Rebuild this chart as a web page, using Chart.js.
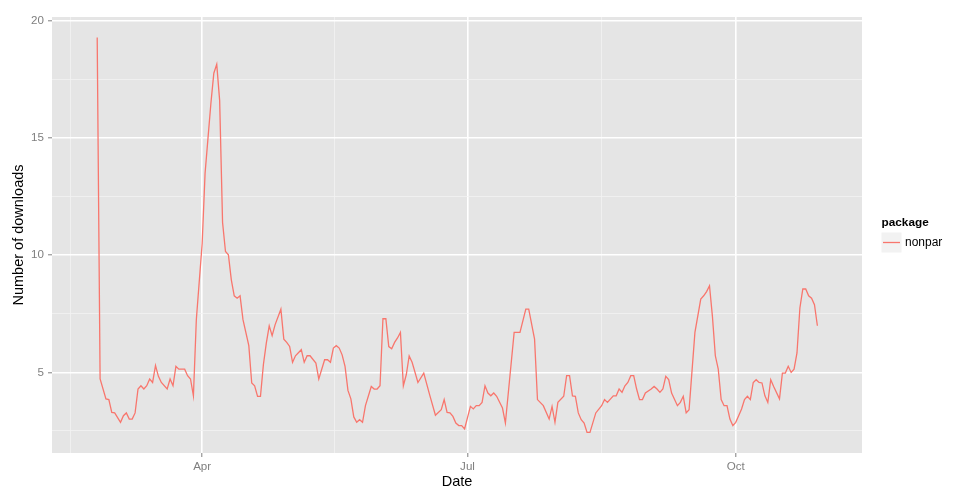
<!DOCTYPE html>
<html lang="en">
<head>
    <meta charset="UTF-8">
    <title>nonpar downloads</title>
    <script src="https://cdn.jsdelivr.net/npm/chart.js"></script>
    <style>
        html, body { margin: 0; padding: 0; background: #fff; }
        #wrap { width: 980px; height: 500px; }
    </style>
</head>
<body>
    <div id="wrap"><canvas id="downloadsChart" width="980" height="500"></canvas></div>

    <script>
        // day of year (Jan 1 = 0) of each reading, and the downloads on that day
        const days = [
            54, 55, 57, 58, 59, 60, 62, 63, 64, 65, 66, 67, 68, 69, 70, 71, 72, 73, 74, 75,
            76, 78, 79, 80, 81, 82, 84, 85, 86, 87, 88, 90, 91, 92, 93, 94, 95, 96, 97, 98,
            99, 100, 101, 102, 103, 104, 106, 107, 108, 109, 110, 111, 112, 113, 114, 115, 117, 118, 119, 120,
            121, 122, 124, 125, 126, 127, 129, 130, 132, 133, 134, 135, 136, 137, 138, 139, 140, 141, 142, 143,
            144, 145, 146, 148, 149, 150, 151, 152, 153, 154, 155, 156, 157, 158, 159, 160, 161, 162, 164, 166,
            168, 170, 172, 173, 174, 175, 176, 177, 178, 179, 180, 182, 183, 184, 185, 186, 187, 188, 189, 190,
            191, 193, 194, 197, 199, 201, 202, 204, 205, 207, 209, 210, 211, 212, 214, 215, 216, 217, 218, 219,
            220, 221, 222, 223, 225, 227, 228, 229, 231, 232, 233, 234, 235, 236, 237, 238, 239, 240, 241, 242,
            244, 245, 246, 247, 248, 249, 250, 251, 253, 254, 255, 256, 257, 259, 261, 262, 263, 264, 265, 266,
            267, 268, 269, 270, 271, 272, 273, 274, 275, 276, 277, 278, 279, 280, 281, 282, 283, 284, 285, 286,
            288, 289, 290, 291, 292, 293, 294, 295, 296, 297, 298, 299, 300, 301
        ];
        const downloads = [
            19.3, 4.72, 3.87, 3.84, 3.29, 3.27, 2.87, 3.15, 3.27, 3.01, 3.01, 3.27, 4.29, 4.43, 4.29, 4.43, 4.72, 4.57, 5.29, 4.83,
            4.57, 4.29, 4.72, 4.43, 5.26, 5.14, 5.14, 4.86, 4.72, 4.0, 7.25, 10.5, 13.5, 15.0, 16.49, 17.77, 18.15, 16.6, 11.4, 10.16,
            10.02, 8.95, 8.27, 8.17, 8.27, 7.25, 6.14, 4.55, 4.43, 3.98, 3.98, 5.33, 6.25, 6.99, 6.57, 7.03, 7.7, 6.42, 6.28, 6.11,
            5.43, 5.71, 5.97, 5.43, 5.71, 5.71, 5.4, 4.72, 5.54, 5.54, 5.43, 6.04, 6.14, 6.04, 5.75, 5.26, 4.23, 3.87, 3.1, 2.87,
            2.98, 2.87, 3.58, 4.4, 4.29, 4.29, 4.43, 7.29, 7.29, 6.1, 6.01, 6.28, 6.47, 6.71, 4.43, 4.9, 5.7, 5.43, 4.57, 4.97,
            4.05, 3.17, 3.41, 3.84, 3.29, 3.27, 3.12, 2.84, 2.73, 2.73, 2.59, 3.55, 3.44, 3.58, 3.58, 3.72, 4.43, 4.12, 4.0, 4.12,
            3.98, 3.48, 2.84, 6.71, 6.71, 7.7, 7.7, 6.42, 3.84, 3.58, 3.01, 3.55, 2.87, 3.72, 3.98, 4.86, 4.86, 4.0, 3.98, 3.27,
            2.98, 2.84, 2.44, 2.44, 3.27, 3.58, 3.84, 3.72, 4.0, 4.0, 4.29, 4.15, 4.43, 4.57, 4.86, 4.86, 4.29, 3.84, 3.84, 4.12,
            4.29, 4.4, 4.29, 4.15, 4.29, 4.83, 4.69, 4.12, 3.58, 3.72, 3.98, 3.27, 3.41, 6.71, 8.13, 8.27, 8.45, 8.7, 7.39, 5.71,
            5.14, 3.84, 3.58, 3.58, 3.01, 2.73, 2.87, 3.15, 3.44, 3.84, 3.98, 3.84, 4.57, 4.69, 4.57, 4.55, 4.0, 3.72, 4.69, 4.4,
            3.87, 4.97, 4.97, 5.26, 5.0, 5.14, 5.83, 7.75, 8.56, 8.56, 8.27, 8.17, 7.89, 6.99
        ];
        const seriesName = 'nonpar';

        // axis breaks (major with labels, minor midway between them)
        const monthTickDays = [90, 181, 273];
        const monthTickLabels = ['Apr', 'Jul', 'Oct'];
        const minorTickDays = [45, 135.5, 227];
        const yMajorTicks = [5, 10, 15, 20];
        const yMinorTicks = [2.5, 7.5, 12.5, 17.5];

        const FONT = '"Liberation Sans", Arial, sans-serif';
        const LINE = '#F8766D';

        const isMajor = (axis, v) => (axis === 'x' ? monthTickDays : yMajorTicks).includes(v);

        const gridFor = (axis) => ({
            color: (c) => isMajor(axis, c.tick.value) ? '#FFFFFF' : '#F2F2F2',
            lineWidth: (c) => isMajor(axis, c.tick.value) ? 1.6 : 0.8,
            tickColor: (c) => isMajor(axis, c.tick.value) ? '#7F7F7F' : 'rgba(0,0,0,0)',
            tickLength: 4,
            tickWidth: 1,
        });

        const ggTheme = {
            id: 'ggTheme',
            beforeDraw(chart) {
                const { ctx, chartArea: a } = chart;
                ctx.save();
                ctx.fillStyle = '#E5E5E5';
                ctx.fillRect(a.left, a.top, a.right - a.left, a.bottom - a.top);
                ctx.restore();
            },
            afterDraw(chart) {
                const { ctx, chartArea: a } = chart;
                ctx.save();
                ctx.fillStyle = '#000';
                ctx.textBaseline = 'middle';

                // axis titles
                ctx.font = `14.5px ${FONT}`;
                ctx.textAlign = 'center';
                ctx.fillText('Date', (a.left + a.right) / 2, 482);
                ctx.save();
                ctx.translate(19, (a.top + a.bottom) / 2);
                ctx.rotate(-Math.PI / 2);
                ctx.fillText('Number of downloads', 0, 0);
                ctx.restore();

                // legend
                ctx.textAlign = 'left';
                ctx.font = `bold 11.8px ${FONT}`;
                ctx.fillText('package', 881.5, 223);
                ctx.fillStyle = '#F2F2F2';
                ctx.fillRect(881.5, 232.5, 20, 20);
                ctx.strokeStyle = chart.data.datasets[0].borderColor;
                ctx.lineWidth = 1.3;
                ctx.beginPath();
                ctx.moveTo(883, 242.5);
                ctx.lineTo(900, 242.5);
                ctx.stroke();
                ctx.fillStyle = '#000';
                ctx.font = `12px ${FONT}`;
                ctx.fillText(chart.data.datasets[0].label, 905, 242.5);
                ctx.restore();
            }
        };

        const ctx = document.getElementById('downloadsChart').getContext('2d');
        new Chart(ctx, {
            type: 'line',
            data: {
                datasets: [{
                    label: seriesName,
                    data: days.map((d, i) => ({ x: d, y: downloads[i] })),
                    borderColor: LINE,
                    borderWidth: 1.3,
                    pointRadius: 0,
                    tension: 0,
                    fill: false,
                }],
            },
            options: {
                responsive: false,
                animation: false,
                layout: { padding: { top: 17, right: 118, left: 0, bottom: 0 } },
                plugins: {
                    legend: { display: false },
                    tooltip: { enabled: false },
                },
                scales: {
                    x: {
                        type: 'linear',
                        min: 38.5,
                        max: 316.3,
                        afterBuildTicks: (s) => {
                            s.ticks = [...minorTickDays, ...monthTickDays].sort((p, q) => p - q).map(v => ({ value: v }));
                        },
                        afterFit: (s) => { s.height = 47; },
                        border: { display: false },
                        grid: gridFor('x'),
                        ticks: {
                            autoSkip: false,
                            maxRotation: 0,
                            padding: 3,
                            color: '#7F7F7F',
                            font: { family: FONT, size: 11.6 },
                            callback: (v) => {
                                const i = monthTickDays.indexOf(v);
                                return i >= 0 ? monthTickLabels[i] : '';
                            },
                        },
                    },
                    y: {
                        type: 'linear',
                        min: 1.56,
                        max: 20.17,
                        afterBuildTicks: (s) => {
                            s.ticks = [...yMinorTicks, ...yMajorTicks].sort((p, q) => p - q).map(v => ({ value: v }));
                        },
                        afterFit: (s) => { s.width = 52; },
                        border: { display: false },
                        grid: gridFor('y'),
                        ticks: {
                            autoSkip: false,
                            padding: 4,
                            color: '#7F7F7F',
                            font: { family: FONT, size: 11.6 },
                            callback: (v) => yMajorTicks.includes(v) ? String(v) : '',
                        },
                    },
                },
            },
            plugins: [ggTheme],
        });
    </script>
</body>
</html>
